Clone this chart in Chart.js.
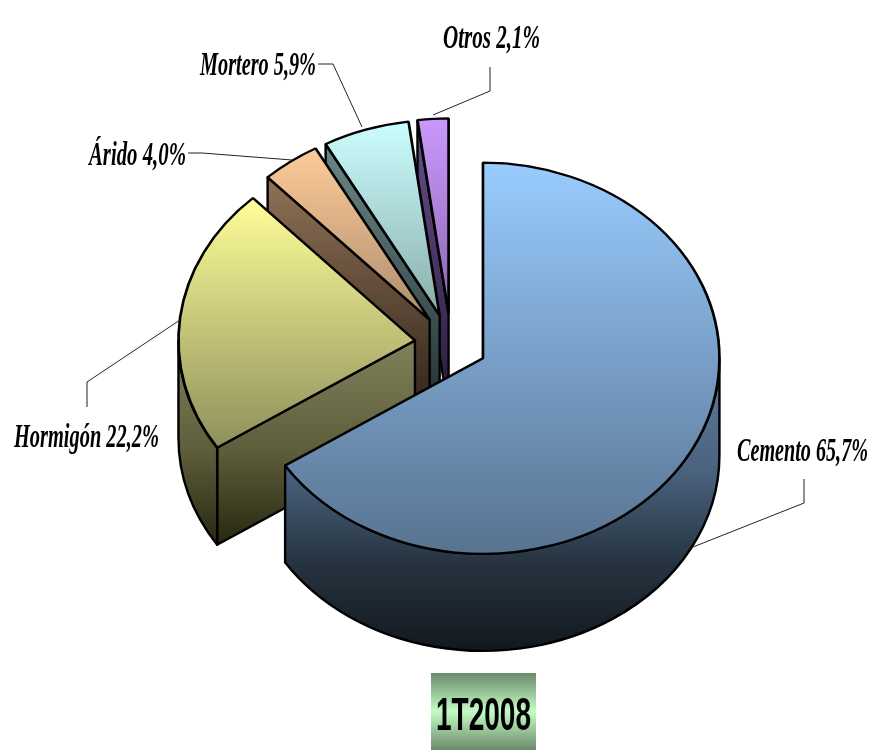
<!DOCTYPE html>
<html><head><meta charset="utf-8">
<style>html,body{margin:0;padding:0;background:#fff}canvas{display:block}</style>
<script src="https://cdn.jsdelivr.net/npm/chart.js@4"></script>
</head><body>
<canvas id="c" width="876" height="750"></canvas>
<script>
const categories = ['Cemento','Hormigón','Árido','Mortero','Otros'];
const values = [65.7,22.2,4.0,5.9,2.1];
const pointLabels = ['Cemento 65,7%','Hormigón 22,2%','Árido 4,0%','Mortero 5,9%','Otros 2,1%'];
const periodLabel = '1T2008';

// --- styling and layout only ---
const K = 196/237, DEPTH = 97, EXPLODE = 36.3, RADIUS = 236.5, CX = 451, CY = 344;
const topGrad = [
  [[162,'#99CCFF'],[553,'#587390']],
  [[197,'#FFFF99'],[450,'#8E8E5C']],
  [[146,'#FFCC99'],[345,'#A08468']],
  [[120,'#CCFFFF'],[345,'#7F9F9F']],
  [[115,'#CC99FF'],[345,'#7F5FA0']]
];
const sideGrad = [
  [[358,'#5E7C9C'],[470,'#4A637F'],[565,'#26333F'],[650,'#12181E']],
  [[340,'#80805A'],[450,'#5E5E3C'],[547,'#26260F']],
  [[177,'#8F7257'],[417,'#2E2218']],
  [[140,'#6C8888'],[412,'#223030']],
  [[117,'#67508C'],[410,'#281A3C']]
];
const labelBox = [
  {l:737,w:131,b:461},{l:14,w:145,b:447},{l:89,w:97,b:165},{l:200,w:116,b:75},{l:443,w:97,b:48}
];
const leaders = [
  [[804,479],[804,503],[693,547]],
  [[87,407],[87,382],[180,320]],
  [[188,153],[202,153],[292,160]],
  [[318,64],[333,64],[362,127]],
  [[490,67],[490,91],[433,115]]
];

function grad(ctx, stops, conv){
  const ys = stops.map(s=>conv(s[0]));
  const a = ys[0], b = ys[ys.length-1];
  const g = ctx.createLinearGradient(0,a,0,b);
  stops.forEach((s,i)=>g.addColorStop((ys[i]-a)/(b-a), s[1]));
  return g;
}
const toChartY = y => CY + (y-CY)/K;

const pie3d = {
  id:'pie3d',
  afterDatasetUpdate(chart){
    chart.getDatasetMeta(0).data.forEach(a=>{
      const mid=(a.startAngle+a.endAngle)/2;
      a.x += Math.cos(mid)*EXPLODE;
      a.y += Math.sin(mid)*EXPLODE;
    });
  },
  beforeDatasetsDraw(chart){
    const ctx = chart.ctx, arcs = chart.getDatasetMeta(0).data;
    for(let i=arcs.length-1;i>=0;i--){
      const a=arcs[i], R=a.outerRadius;
      const ax=a.x, ay=CY+(a.y-CY)*K;
      const P=t=>[ax+R*Math.cos(t), ay+R*K*Math.sin(t)];
      ctx.save();
      ctx.fillStyle=grad(ctx,sideGrad[i],y=>y);
      ctx.strokeStyle='#000'; ctx.lineWidth=2.4; ctx.lineJoin='round';
      const face=t=>{
        const p=P(t);
        ctx.beginPath();
        ctx.moveTo(ax,ay);ctx.lineTo(p[0],p[1]);ctx.lineTo(p[0],p[1]+DEPTH);ctx.lineTo(ax,ay+DEPTH);ctx.closePath();
        ctx.fill();ctx.stroke();
      };
      // cut faces turned towards the viewer
      if(Math.sin(a.startAngle+Math.PI/2)<0) face(a.startAngle);
      if(Math.sin(a.endAngle+Math.PI/2)>0 && a.endAngle-a.startAngle<Math.PI) face(a.endAngle);
      // outer wall: the part of the rim in the front half
      const s=Math.max(a.startAngle,0), e=Math.min(a.endAngle,Math.PI);
      if(e>s){
        ctx.beginPath();
        ctx.ellipse(ax,ay,R,R*K,0,s,e);
        ctx.ellipse(ax,ay+DEPTH,R,R*K,0,e,s,true);
        ctx.closePath();
        ctx.fill();ctx.stroke();
      }
      ctx.restore();
    }
    ctx.save();
    ctx.translate(0,CY);ctx.scale(1,K);ctx.translate(0,-CY);
  },
  afterDatasetsDraw(chart){
    const ctx=chart.ctx;
    ctx.restore();
    ctx.save();
    // leader lines
    ctx.strokeStyle='#222';ctx.lineWidth=1;
    leaders.forEach(pts=>{
      ctx.beginPath();
      pts.forEach((p,i)=>i?ctx.lineTo(p[0],p[1]):ctx.moveTo(p[0],p[1]));
      ctx.stroke();
    });
    // labels
    ctx.fillStyle='#000';ctx.textBaseline='alphabetic';ctx.textAlign='left';
    ctx.font='italic bold 34px "Liberation Serif"';
    pointLabels.forEach((t,i)=>{
      const b=labelBox[i], w=ctx.measureText(t).width;
      ctx.save();ctx.translate(b.l,b.b);ctx.scale(b.w/w,1);ctx.fillText(t,0,0);ctx.restore();
    });
    // period box
    const g=ctx.createLinearGradient(0,673,0,750);
    g.addColorStop(0,'#6B8A6B');g.addColorStop(.5,'#C4FCC4');g.addColorStop(1,'#6B8A6B');
    ctx.fillStyle=g;ctx.fillRect(431,673,105,77);
    ctx.fillStyle='#000';ctx.font='bold 46px "Liberation Sans"';
    const w=ctx.measureText(periodLabel).width;
    ctx.save();ctx.translate(436,730);ctx.scale(95/w,1);ctx.fillText(periodLabel,0,0);ctx.restore();
    ctx.restore();
  }
};

new Chart(document.getElementById('c'),{
  type:'pie',
  data:{labels:categories,datasets:[{
    data:values,
    clip:false,
    borderColor:'#000',
    borderWidth:2.7,
    backgroundColor:c=>grad(c.chart.ctx,topGrad[c.dataIndex%5],toChartY)
  }]},
  options:{
    responsive:false,animation:false,radius:RADIUS,
    layout:{padding:{left:26,right:0,top:0,bottom:62}},
    plugins:{legend:{display:false},tooltip:{enabled:false},title:{display:false}}
  },
  plugins:[pie3d]
});
</script>
</body></html>
